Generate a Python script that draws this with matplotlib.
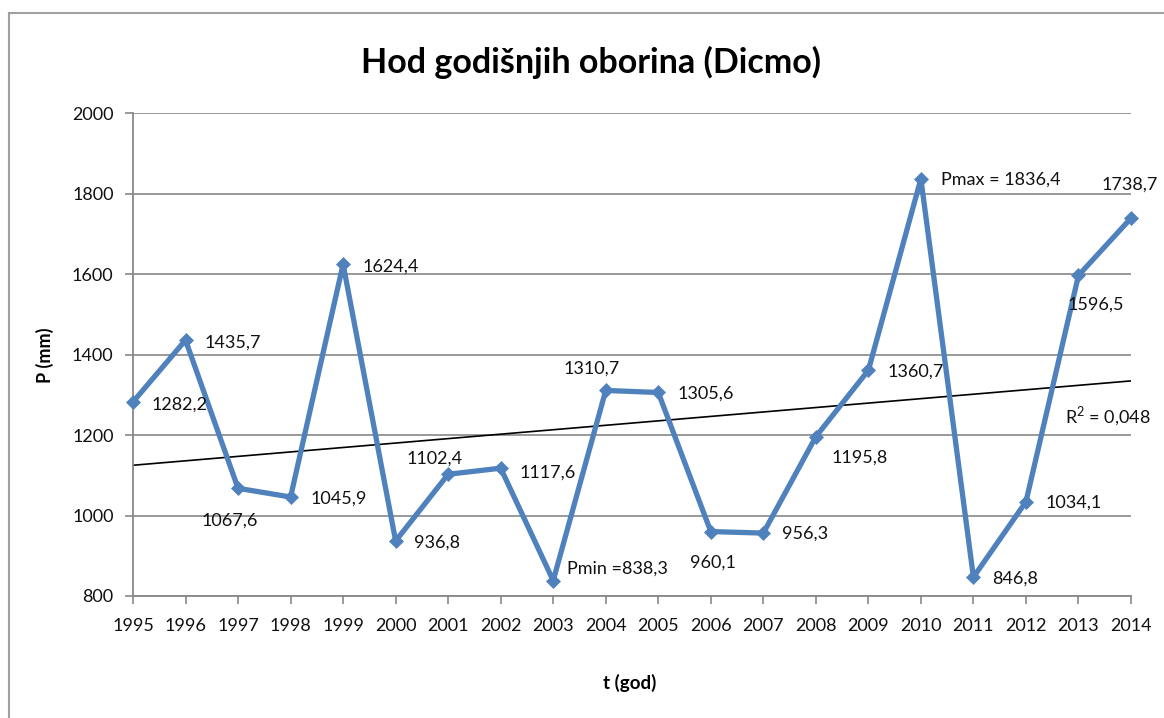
import matplotlib
matplotlib.use("Agg")
import matplotlib.pyplot as plt
import numpy as np
from matplotlib.lines import Line2D

years = list(range(1995, 2015))
precip = [1282.2, 1435.7, 1067.6, 1045.9, 1624.4, 936.8, 1102.4, 1117.6, 838.3, 1310.7,
          1305.6, 960.1, 956.3, 1195.8, 1360.7, 1836.4, 846.8, 1034.1, 1596.5, 1738.7]
labels = ["1282,2", "1435,7", "1067,6", "1045,9", "1624,4", "936,8", "1102,4", "1117,6",
          "Pmin =838,3", "1310,7", "1305,6", "960,1", "956,3", "1195,8", "1360,7",
          "Pmax = 1836,4", "846,8", "1034,1", "1596,5", "1738,7"]
# label offsets in pixels (dx, dy up) from the point to the label's left-centre
offsets = [(19, -3), (19, -2), (-37, -32), (20, -2), (19, -2), (18, -2), (-42, 16), (19, -4),
           (14, 12), (-42, 22), (19, -1), (-21, -31), (19, -1), (16, -21), (19, -1),
           (20, -1), (19, -1), (20, -1), (-11, -29), (-29, 34)]
yticks = [800, 1000, 1200, 1400, 1600, 1800, 2000]
r2_text = "R$^2$ = 0,048"

plt.rcParams['font.family'] = ['Lato', 'DejaVu Sans']
plt.rcParams['mathtext.fontset'] = 'custom'
plt.rcParams['mathtext.rm'] = 'Lato'

W, H = 1164, 718
fig = plt.figure(figsize=(W / 100, H / 100), dpi=100)
ax = fig.add_axes([133 / W, 1 - 596 / H, (1131 - 133) / W, (596 - 113) / H])

# outer chart frame (left and top edges visible)
fx, fy = 8.5 / W, 1 - 12.5 / H
fig.lines.append(Line2D([fx, fx], [0, fy], transform=fig.transFigure,
                        color='#a0a0a0', linewidth=1.5))
fig.lines.append(Line2D([fx, 1], [fy, fy], transform=fig.transFigure,
                        color='#a0a0a0', linewidth=1.5))

grid_c = '#888888'
ax.set_xlim(1995, 2014)
ax.set_ylim(800, 2000)
ax.set_yticks(yticks)
ax.set_xticks(years)
ax.yaxis.grid(True, color=grid_c, linewidth=1.2)
ax.set_axisbelow(True)
for s in ['top', 'right']:
    ax.spines[s].set_visible(False)
for s in ['left', 'bottom']:
    ax.spines[s].set_color(grid_c)
    ax.spines[s].set_linewidth(1.3)
ax.tick_params(axis='both', colors=grid_c, length=6, width=1.2, labelcolor='#111111',
               labelsize=13)
ax.tick_params(axis='x', pad=10)
ax.tick_params(axis='y', pad=8)

# trend line
coef = np.polyfit(years, precip, 1)
yr = np.array([1995, 2014])
ax.plot(yr, np.polyval(coef, yr), color='black', linewidth=1.2, zorder=2)

ax.plot(years, precip, color='#4F81BD', linewidth=3.8, marker='D', markersize=7.5,
        markeredgewidth=0.5, zorder=3, clip_on=False)

for x, y, lab, (dx, dy) in zip(years, precip, labels, offsets):
    ax.annotate(lab, (x, y), xytext=(dx, dy), textcoords='offset pixels',
                ha='left', va='center', fontsize=13, color='#111111')

ax.text(1065, H - 416, r2_text, transform=None, ha='left', va='center', fontsize=13,
        color='#111111')

fig.text(591 / W, 1 - 62 / H, "Hod godišnjih oborina (Dicmo)", ha='center', va='center',
         fontsize=24.5, fontweight='bold', color='black')
fig.text(45 / W, 1 - 355 / H, "P (mm)", rotation=90, ha='center', va='center',
         fontsize=13, fontweight='bold', color='black')
fig.text(630 / W, 1 - 683 / H, "t (god)", ha='center', va='center',
         fontsize=13.5, fontweight='bold', color='black')

fig.savefig("out.png", dpi=100)
